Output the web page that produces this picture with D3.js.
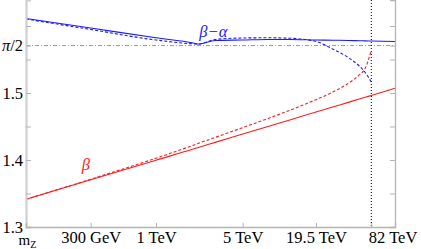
<!DOCTYPE html>
<html lang="en">
<head>
  <meta charset="utf-8">
  <script src="https://d3js.org/d3.v7.min.js"></script>
  <style>
    body { margin: 0; background: #fff; }
    text { font-family: "Liberation Serif", "Times New Roman", serif; }
  </style>
</head>
<body>
  <div id="chart"></div>
  <script>
  const width = 421
  const height = 249

  // scale in GeV, tick marks on the x axis
  const tickEnergy = [91.19, 300, 1000, 5000, 19500, 82000]
  const tickLabel = ["m", "300 GeV", "1 TeV", "5 TeV", "19.5 TeV", "82 TeV"]
  const yMajor = [1.3, 1.4, 1.5, Math.PI / 2]
  const yMinor = [1.35, 1.45, 1.55, 1.6]

  // energies at which the curves are read
  const energy = [91.19, 300, 1000, 2000, 2200, 3000, 5000, 8000, 12000, 19500, 30000, 45000, 60000, 70000, 82000, 150000]

  const betaSolid = [1.3413, 1.3704, 1.3997, 1.4164, 1.4188, 1.4263, 1.4387, 1.4500, 1.4598, 1.4715, 1.4790, 1.4860, 1.4910, 1.4936, 1.4964, 1.5070]
  const betaDashed = [1.3413, 1.3713, 1.4027, 1.4221, 1.4249, 1.4337, 1.4484, 1.4619, 1.4742, 1.4901, 1.5013, 1.5143, 1.5269, 1.5369, 1.5636]
  const bmaSolid = [1.6112, 1.5970, 1.5824, 1.5746, 1.5731, 1.5784, 1.5791, 1.5799, 1.5799, 1.5791, 1.5788, 1.5784, 1.5780, 1.5778, 1.5776, 1.5769]
  const bmaDashed = [1.6104, 1.5948, 1.5791, 1.5734, 1.5731, 1.5799, 1.5821, 1.5824, 1.5818, 1.5769, 1.5657, 1.5530, 1.5403, 1.5306, 1.5164]

  const mLeft = 26, mRight = 395, mBottom = 227, mTop = 0

  // axis is not a plain log: piecewise log through the labelled points
  const x = d3.scaleLog()
    .domain([91.19, 300, 1000, 5000, 19500, 82000, 150000])
    .range([mLeft, 90.7, 156, 242.7, 316, 371.3, mRight])

  const y = d3.scaleLinear()
    .domain([1.3, 1.3 + (mBottom - mTop) / 670])
    .range([mBottom, mTop])

  const svg = d3.select("#chart").append("svg")
    .attr("width", width)
    .attr("height", height)

  // reference lines
  svg.append("line")
    .attr("x1", mLeft).attr("x2", mRight)
    .attr("y1", y(Math.PI / 2)).attr("y2", y(Math.PI / 2))
    .attr("stroke", "#999").attr("stroke-width", 1)
    .attr("stroke-dasharray", "4,2,1,2")

  svg.append("line")
    .attr("x1", x(82000)).attr("x2", x(82000))
    .attr("y1", mTop).attr("y2", mBottom)
    .attr("stroke", "#000").attr("stroke-width", 1)
    .attr("stroke-dasharray", "1,2")

  // curves
  const line = d3.line()
    .x(d => x(d[0]))
    .y(d => y(d[1]))
    .curve(d3.curveMonotoneX)

  const series = [
    { v: betaSolid, color: "#ff1a1a", dash: null },
    { v: betaDashed, color: "#ff1a1a", dash: "3,2" },
    { v: bmaSolid, color: "#1a1aff", dash: null },
    { v: bmaDashed, color: "#1a1aff", dash: "3,2" }
  ]

  svg.selectAll("path.curve")
    .data(series)
    .enter().append("path")
    .attr("class", "curve")
    .attr("d", s => line(s.v.map((v, i) => [energy[i], v])))
    .attr("fill", "none")
    .attr("stroke", s => s.color)
    .attr("stroke-width", 1.1)
    .attr("stroke-dasharray", s => s.dash)

  // axes
  const axisColor = "#b4b4b4"

  const gLeft = svg.append("g")
    .attr("transform", `translate(${mLeft},0)`)
    .call(d3.axisLeft(y).tickValues(yMajor.concat(yMinor)).tickSize(-5).tickPadding(3)
      .tickFormat(d => yMajor.includes(d) ? (d === Math.PI / 2 ? "" : d3.format(".1f")(d)) : ""))
  gLeft.select(".domain").attr("stroke", "#cfcfcf").attr("stroke-width", 2.2)

  const piLabel = gLeft.selectAll(".tick text").filter(d => d === Math.PI / 2)
  piLabel.append("tspan").attr("font-style", "italic").text("π")
  piLabel.append("tspan").text("/2")

  const gRight = svg.append("g")
    .attr("transform", `translate(${mRight},0)`)
    .call(d3.axisRight(y).tickValues(yMajor.concat(yMinor)).tickSize(-5).tickFormat(""))
  gRight.select(".domain").attr("stroke", axisColor).attr("stroke-width", 1.3)

  const gBottom = svg.append("g")
    .attr("transform", `translate(0,${mBottom})`)
    .call(d3.axisBottom(x).tickValues(tickEnergy).tickSize(-4).tickPadding(4)
      .tickFormat((d, i) => i === 0 ? "" : tickLabel[i]))
  gBottom.select(".domain").attr("stroke", axisColor).attr("stroke-width", 1.3)

  svg.selectAll(".tick line").attr("stroke", axisColor)
  svg.selectAll(".tick text")
    .attr("fill", "#000")
    .attr("font-size", 16.5)
  gLeft.selectAll(".tick text").attr("dy", "0.32em")

  // m_Z label with subscript, set a bit lower so it clears "1.3"
  const mz = gBottom.selectAll(".tick text").filter((d, i) => i === 0)
    .attr("y", 7).attr("x", 1).attr("font-size", 15)
  mz.append("tspan").text(tickLabel[0])
  mz.append("tspan").attr("font-size", 10).attr("dy", "0.3em").text("Z")

  // last label sits to the right of its tick
  gBottom.selectAll(".tick text").filter((d, i) => i === tickEnergy.length - 1)
    .attr("text-anchor", "start").attr("x", -3)

  // curve labels
  svg.append("text")
    .attr("x", x(2900)).attr("y", y(1.5836))
    .attr("text-anchor", "middle")
    .attr("fill", "#1a1aff")
    .attr("font-size", 16.5)
    .attr("font-style", "italic")
    .text("β−α")

  svg.append("text")
    .attr("x", x(275)).attr("y", y(1.3851))
    .attr("text-anchor", "middle")
    .attr("fill", "#ff1a1a")
    .attr("font-size", 16.5)
    .attr("font-style", "italic")
    .text("β")
  </script>
</body>
</html>
